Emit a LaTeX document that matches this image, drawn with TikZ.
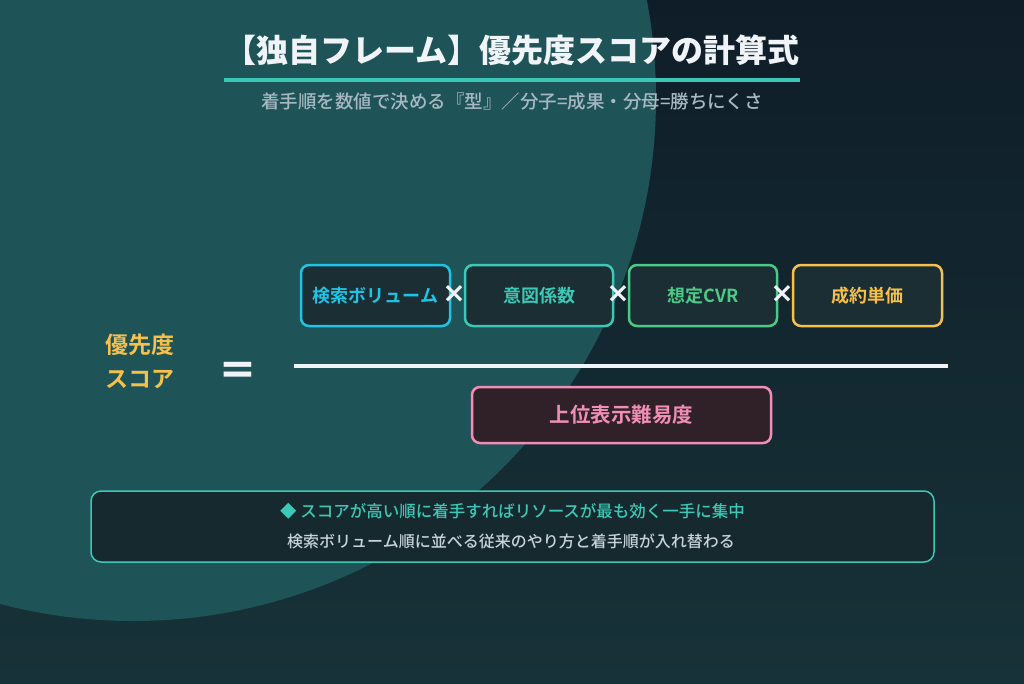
\documentclass[tikz,border=0pt]{standalone}
\usepackage{fontspec}
\setmainfont{Noto Sans CJK JP}[BoldFont={Noto Sans CJK JP Bold}]
\newfontfamily\medfont{Noto Sans CJK JP Medium}
\newfontfamily\heavyfont{Noto Sans CJK JP Black}
\newfontfamily\symfont{DejaVu Sans}
\usepackage{tikz}
\usetikzlibrary{positioning,shapes}
\usepackage{xcolor}
\definecolor{bgtop}{RGB}{15,29,40}
\definecolor{bgbottom}{RGB}{23,50,56}
\definecolor{bgcircle}{RGB}{30,84,87}
\definecolor{sfwhite}{RGB}{240,244,248}
\definecolor{sfgrey}{RGB}{168,184,194}
\definecolor{sfteal}{RGB}{60,200,182}
\definecolor{sfcyan}{RGB}{30,196,230}
\definecolor{sfgreen}{RGB}{76,201,135}
\definecolor{sfyellow}{RGB}{246,192,74}
\definecolor{sfpink}{RGB}{240,142,182}
\definecolor{boxfill}{RGB}{26,46,51}
\definecolor{pinkfill}{RGB}{48,33,40}
\definecolor{notefill}{RGB}{21,41,47}
\definecolor{notetext}{RGB}{200,210,218}
\tikzstyle{factorbox} = [rectangle, rounded corners=8pt, minimum width=148pt, minimum height=61pt, inner sep=0pt, text centered, fill=boxfill, line width=2.5pt, font=\fontsize{18}{18}\selectfont\bfseries]
\tikzstyle{timesmark} = [inner sep=0pt, text=sfwhite, font=\symfont\fontsize{28}{28}\selectfont\bfseries]

\begin{document}
\begin{tikzpicture}[x=1pt, y=-1pt]
\useasboundingbox (0,0) rectangle (1024,683);
% Background
\begin{scope}
\clip (0,0) rectangle (1024,683);
\fill[top color=bgtop, bottom color=bgbottom] (0,0) rectangle (1024,683);
\fill[bgcircle] (133,98) circle[radius=523pt];
\end{scope}

% Title
\node[text=sfwhite, font=\heavyfont\fontsize{32}{32}\selectfont, inner sep=0pt] (title) at (512,50) {【独自フレーム】優先度スコアの計算式};
\coordinate (ulL) at (224,80);
\coordinate (ulR) at (800,80);
\draw[sfteal, line width=4pt] (ulL) -- (ulR);
\node[text=sfgrey, font=\medfont\fontsize{18.5}{18.5}\selectfont, inner sep=0pt] (subtitle) at (512,102) {着手順を数値で決める『型』／分子=成果・分母=勝ちにくさ};

% Left side
\node[text=sfyellow, font=\fontsize{23}{34}\selectfont\bfseries, align=center, inner sep=0pt] (score) at (140,361) {優先度\\スコア};
\node[text=sfwhite, font=\symfont\fontsize{44}{44}\selectfont\bfseries, inner sep=0pt] (eq) at (238,373) {=};

% Numerator
\node[factorbox, draw=sfcyan, text=sfcyan, minimum width=149pt] (vol) at (375.5,295.5) {検索ボリューム};
\node[factorbox, draw=sfteal, text=sfteal] (intent) at (539,295.5) {意図係数};
\node[factorbox, draw=sfgreen, text=sfgreen] (cvr) at (703,295.5) {想定CVR};
\node[factorbox, draw=sfyellow, text=sfyellow, minimum width=149pt] (price) at (867.5,295.5) {成約単価};
\node[timesmark] (x1) at (454,294) {×};
\node[timesmark] (x2) at (618,294) {×};
\node[timesmark] (x3) at (782,294) {×};

% Fraction bar
\coordinate (barL) at (294,366);
\coordinate (barR) at (948,366);
\draw[sfwhite, line width=4pt] (barL) -- (barR);

% Denominator
\node[factorbox, draw=sfpink, fill=pinkfill, text=sfpink, minimum width=299pt, minimum height=56pt, font=\fontsize{20.5}{20.5}\selectfont\bfseries] (diff) at (621.5,415) {上位表示難易度};

% Note
\node[rectangle, rounded corners=10pt, minimum width=843pt, minimum height=71pt, draw=sfteal, fill=notefill, line width=1.5pt] (note) at (512.5,526.5) {};
\node[text=sfteal, font=\medfont\fontsize{16.5}{16.5}\selectfont, inner sep=0pt] (note1) at (512.5,511) {◆ スコアが高い順に着手すればリソースが最も効く一手に集中};
\node[text=notetext, font=\medfont\fontsize{16}{16}\selectfont, inner sep=0pt] (note2) at (511,541) {検索ボリューム順に並べる従来のやり方と着手順が入れ替わる};
\end{tikzpicture}
\end{document}
